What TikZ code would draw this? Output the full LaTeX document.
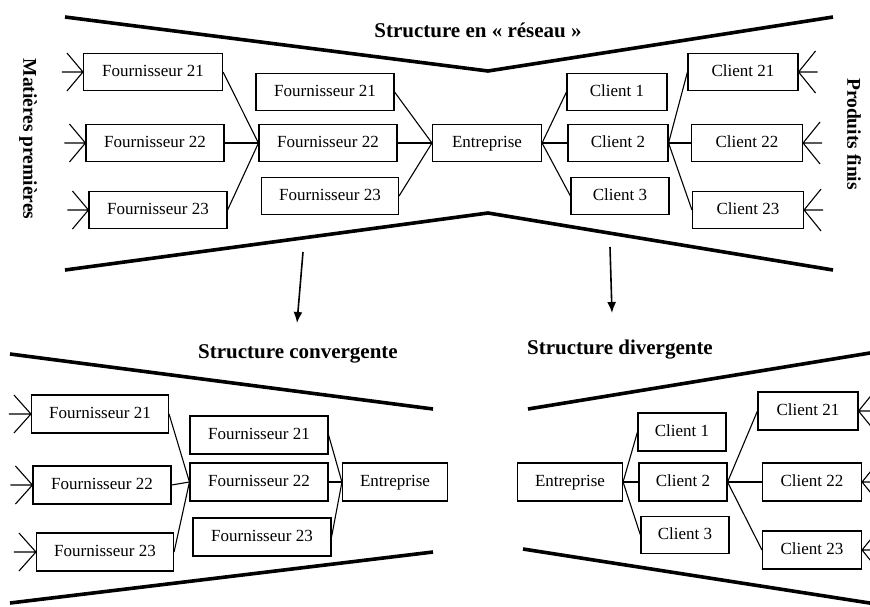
\documentclass[tikz,border=0pt]{standalone}
\usepackage{fontspec}
\setmainfont{Liberation Serif}
\usetikzlibrary{arrows.meta}
\tikzset{
  boite/.style={draw,line width=1.1pt,minimum height=37pt,inner sep=0pt,text height=12pt,text depth=3.5pt,font=\fontsize{17}{20}\selectfont},
  lien/.style={line width=1.1pt},
  bord/.style={line width=3.6pt},
  titre/.style={font=\bfseries\fontsize{21}{24}\selectfont},
  cote/.style={font=\bfseries\fontsize{19.5}{22}\selectfont,rotate=-90},
}
\begin{document}
\begin{tikzpicture}[x=1pt,y=-1pt]
\useasboundingbox (0,0) rectangle (870,606);
\clip (0,0) rectangle (870,606);
% structure en reseau
\draw[bord] (65,17) -- (488,71) -- (833,17);
\draw[bord] (65,270) -- (488,213) -- (833,270);
\node[titre] (treseau) at (478,30) {Structure en «~réseau~»};
\node[cote] (mp) at (28,139) {Matières premières};
\node[cote] (pf) at (854,134) {Produits finis};
\node[boite,minimum width=139pt] (fa1) at (153,72) {Fournisseur 21};
\node[boite,minimum width=138pt] (fa2) at (155,143) {Fournisseur 22};
\node[boite,minimum width=138pt] (fa3) at (158,210) {Fournisseur 23};
\node[boite,minimum width=138pt] (fb1) at (325,92) {Fournisseur 21};
\node[boite,minimum width=138pt] (fb2) at (328,143) {Fournisseur 22};
\node[boite,minimum width=137pt] (fb3) at (330,196) {Fournisseur 23};
\node[boite,minimum width=109pt] (ent1) at (487,143) {Entreprise};
\node[boite,minimum width=100pt] (ca1) at (617,92) {Client 1};
\node[boite,minimum width=100pt] (ca2) at (618,143) {Client 2};
\node[boite,minimum width=98pt] (ca3) at (620,196) {Client 3};
\node[boite,minimum width=110pt] (cb1) at (743,72) {Client 21};
\node[boite,minimum width=111pt] (cb2) at (747,143) {Client 22};
\node[boite,minimum width=111pt] (cb3) at (748,210) {Client 23};
\foreach \n in {fa1,fa2,fa3}
  \draw[lien] (\n.east) -- (fb2.west);
\foreach \n in {fb1,fb2,fb3}
  \draw[lien] (\n.east) -- (ent1.west);
\foreach \n in {ca1,ca2,ca3}
  \draw[lien] (ent1.east) -- (\n.west);
\foreach \n in {cb1,cb2,cb3}
  \draw[lien] (ca2.east) -- (\n.west);
\foreach \n in {fa1,fa2,fa3}
  \draw[lien] (\n.west) -- ++(-21,0) (\n.west) -- ++(-16,-19) (\n.west) -- ++(-16,19);
\foreach \n in {cb1,cb2,cb3}
  \draw[lien] (\n.east) -- ++(19,0) (\n.east) -- ++(17,-21) (\n.east) -- ++(17,21);
% fleches vers le bas
\coordinate (hg) at (303,252);
\coordinate (bg) at (297,323);
\coordinate (hd) at (610,247);
\coordinate (bd) at (612,313);
\draw[line width=1.6pt,-{Latex[length=11pt,width=9pt]}] (hg) -- (bg);
\draw[line width=1.6pt,-{Latex[length=11pt,width=9pt]}] (hd) -- (bd);
% structure convergente
\draw[bord] (10,354) -- (433,409);
\draw[bord] (10,603) -- (433,552);
\node[titre] (tconv) at (298,354) {Structure convergente};
\node[boite,minimum width=137pt,minimum height=38pt] (ga1) at (100,414) {Fournisseur 21};
\node[boite,minimum width=138pt,minimum height=38pt] (ga2) at (102,485) {Fournisseur 22};
\node[boite,minimum width=137pt,minimum height=38pt] (ga3) at (105,552) {Fournisseur 23};
\node[boite,minimum width=138pt,minimum height=38pt] (gb1) at (259,435) {Fournisseur 21};
\node[boite,minimum width=138pt,minimum height=38pt] (gb2) at (259,482) {Fournisseur 22};
\node[boite,minimum width=138pt,minimum height=38pt] (gb3) at (262,537) {Fournisseur 23};
\node[boite,minimum width=105pt,minimum height=38pt] (ent2) at (395,482) {Entreprise};
\foreach \n in {ga1,ga2,ga3}
  \draw[lien] (\n.east) -- (gb2.west);
\foreach \n in {gb1,gb2,gb3}
  \draw[lien] (\n.east) -- (ent2.west);
\foreach \n in {ga1,ga2,ga3}
  \draw[lien] (\n.west) -- ++(-22,0) (\n.west) -- ++(-17,-19) (\n.west) -- ++(-17,19);
% structure divergente
\draw[bord] (528,409) -- (876,352);
\draw[bord] (523,549) -- (876,604);
\node[titre] (tdiv) at (620,350) {Structure divergente};
\node[boite,minimum width=105pt,minimum height=38pt] (ent3) at (570,482) {Entreprise};
\node[boite,minimum width=88pt,minimum height=38pt] (da1) at (682,432) {Client 1};
\node[boite,minimum width=88pt,minimum height=38pt] (da2) at (683,482) {Client 2};
\node[boite,minimum width=88pt,minimum height=37pt] (da3) at (685,535) {Client 3};
\node[boite,minimum width=100pt,minimum height=38pt] (db1) at (808,411) {Client 21};
\node[boite,minimum width=99pt,minimum height=38pt] (db2) at (812,482) {Client 22};
\node[boite,minimum width=99pt,minimum height=38pt] (db3) at (812,550) {Client 23};
\foreach \n in {da1,da2,da3}
  \draw[lien] (ent3.east) -- (\n.west);
\foreach \n in {db1,db2,db3}
  \draw[lien] (da2.east) -- (\n.west);
\foreach \n in {db1,db2,db3}
  \draw[lien] (\n.east) -- ++(19,0) (\n.east) -- ++(17,-21) (\n.east) -- ++(17,21);
\end{tikzpicture}
\end{document}
